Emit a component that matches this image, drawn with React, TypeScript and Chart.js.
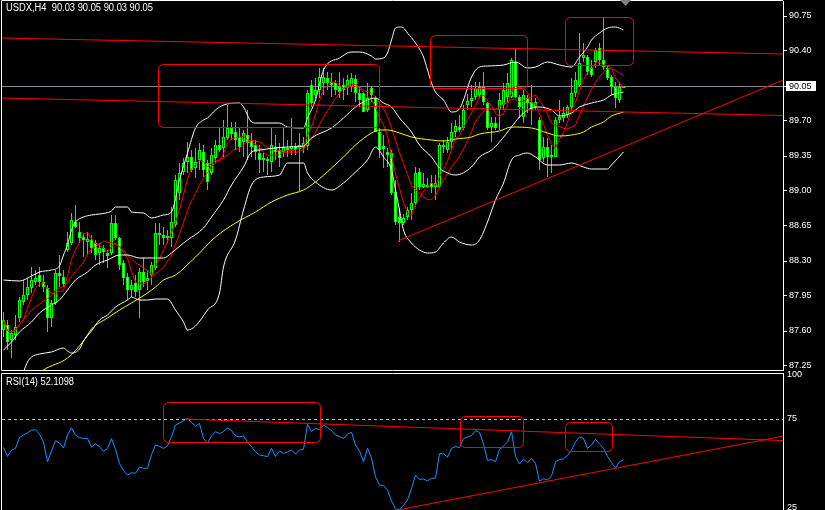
import React, { useEffect, useRef } from "react";
import { Chart, registerables } from "chart.js";

Chart.register(...registerables);

// ---------------- DATA ----------------
const mainTitle = "USDX,H4  90.03 90.05 90.03 90.05";
const rsiTitle = "RSI(14) 52.1098";
const priceTicks = [87.25, 87.6, 87.95, 88.3, 88.65, 89.0, 89.35, 89.7, 90.05, 90.4, 90.75];
const rsiTicks = [25, 75, 100];
const lastPrice = 90.05;
const rsiLevel = 75;

const opens = [
  87.61, 87.66, 87.51, 87.56, 87.73, 87.89, 87.96, 88.03, 88.09, 88.16,
  88.09, 88.03, 87.73, 87.88, 88.18, 88.14, 88.41, 88.48, 88.69, 88.59,
  88.54, 88.49, 88.51, 88.48, 88.38, 88.43, 88.38, 88.38, 88.68, 88.53,
  88.28, 88.14, 88.01, 88.08, 88.01, 88.19, 88.10, 88.16, 88.23, 88.58,
  88.56, 88.53, 88.53, 88.66, 88.98, 89.19, 89.29, 89.34, 89.23, 89.31,
  89.39, 89.28, 89.18, 89.33, 89.46, 89.43, 89.53, 89.63, 89.59, 89.54,
  89.49, 89.56, 89.51, 89.46, 89.38, 89.33, 89.30, 89.29, 89.44, 89.41,
  89.39, 89.43, 89.42, 89.45, 89.42, 89.43, 89.45, 90.06, 89.96, 90.01,
  90.08, 90.13, 90.09, 90.08, 90.04, 90.06, 90.03, 90.04, 90.12, 89.98,
  89.98, 89.81, 90.03, 89.93, 89.59, 89.45, 89.39, 89.38, 88.99, 88.74,
  88.68, 88.74, 88.81, 88.88, 89.19, 89.04, 89.04, 89.08, 89.04, 89.04,
  89.46, 89.41, 89.49, 89.59, 89.64, 89.63, 89.86, 89.90, 89.94, 89.96,
  90.04, 89.88, 89.64, 89.68, 89.81, 89.86, 89.94, 89.94, 90.29, 89.94,
  89.74, 89.93, 89.89, 89.84, 89.71, 89.33, 89.44, 89.34, 89.34, 89.71,
  89.73, 89.76, 89.84, 89.98, 90.06, 90.33, 90.34, 90.23, 90.29, 90.43,
  90.31, 90.23, 90.14, 90.04, 89.91, 90.03,
];
const highs = [
  87.79, 87.71, 87.61, 87.76, 87.94, 88.11, 88.13, 88.24, 88.21, 88.24,
  88.16, 88.06, 87.91, 88.21, 88.36, 88.21, 88.59, 88.78, 88.86, 88.69,
  88.58, 88.59, 88.56, 88.51, 88.48, 88.46, 88.41, 88.76, 88.76, 88.54,
  88.31, 88.18, 88.11, 88.16, 88.23, 88.33, 88.21, 88.29, 88.68, 88.68,
  88.64, 88.61, 88.84, 89.16, 89.28, 89.33, 89.49, 89.41, 89.43, 89.48,
  89.46, 89.31, 89.43, 89.51, 89.64, 89.71, 89.86, 89.69, 89.69, 89.63,
  89.61, 89.81, 89.58, 89.51, 89.46, 89.38, 89.34, 89.63, 89.56, 89.48,
  89.63, 89.51, 89.73, 89.48, 89.58, 89.54, 90.01, 90.11, 90.13, 90.23,
  90.23, 90.19, 90.18, 90.11, 90.19, 90.13, 90.16, 90.18, 90.16, 90.04,
  89.99, 90.08, 90.04, 89.95, 89.63, 89.56, 89.43, 89.41, 89.11, 88.83,
  88.77, 88.84, 88.98, 89.24, 89.23, 89.18, 89.13, 89.16, 89.16, 89.48,
  89.51, 89.54, 89.68, 89.71, 89.76, 89.86, 89.97, 90.06, 90.09, 90.09,
  90.19, 89.89, 89.74, 89.74, 89.98, 90.08, 90.18, 90.33, 90.42, 89.96,
  90.01, 89.96, 90.06, 89.93, 89.74, 89.54, 89.53, 89.46, 89.74, 89.91,
  89.84, 89.86, 90.13, 90.19, 90.58, 90.48, 90.36, 90.31, 90.43, 90.48,
  90.73, 90.26, 90.16, 90.09, 90.09, 90.05,
];
const lows = [
  87.54, 87.41, 87.33, 87.51, 87.69, 87.86, 87.91, 87.98, 88.06, 88.04,
  87.99, 87.59, 87.64, 87.86, 88.04, 88.04, 88.39, 88.46, 88.63, 88.48,
  88.34, 88.36, 88.38, 88.31, 88.26, 88.28, 88.23, 88.36, 88.51, 88.21,
  88.06, 87.91, 87.94, 87.94, 87.73, 88.04, 88.01, 88.06, 88.21, 88.46,
  88.46, 88.48, 88.44, 88.64, 88.91, 89.16, 89.18, 89.19, 89.13, 89.21,
  89.14, 89.01, 89.16, 89.28, 89.39, 89.34, 89.51, 89.51, 89.41, 89.39,
  89.34, 89.31, 89.34, 89.31, 89.18, 89.19, 89.16, 89.19, 89.31, 89.24,
  89.34, 89.34, 89.36, 89.36, 88.99, 89.38, 89.41, 89.84, 89.93, 89.93,
  89.96, 90.01, 89.94, 89.96, 89.93, 89.91, 89.96, 89.99, 89.89, 89.84,
  89.79, 89.79, 89.89, 89.59, 89.33, 89.23, 89.24, 88.96, 88.66, 88.49,
  88.66, 88.71, 88.71, 88.84, 89.01, 89.03, 89.03, 88.98, 88.91, 89.03,
  89.38, 89.38, 89.41, 89.54, 89.59, 89.61, 89.81, 89.84, 89.91, 89.93,
  89.86, 89.61, 89.49, 89.61, 89.61, 89.81, 89.88, 89.93, 89.93, 89.73,
  89.68, 89.78, 89.66, 89.81, 89.21, 89.29, 89.14, 89.18, 89.34, 89.68,
  89.69, 89.73, 89.81, 89.94, 90.04, 90.29, 90.16, 90.14, 90.23, 90.26,
  90.21, 90.11, 89.96, 89.83, 89.88, 90.03,
];
const closes = [
  87.71, 87.49, 87.58, 87.64, 87.91, 87.96, 88.04, 88.11, 88.13, 88.09,
  88.04, 87.73, 87.88, 88.18, 88.15, 88.07, 88.48, 88.71, 88.64, 88.53,
  88.51, 88.52, 88.43, 88.36, 88.43, 88.39, 88.35, 88.68, 88.53, 88.26,
  88.13, 88.01, 88.06, 87.99, 88.19, 88.09, 88.13, 88.26, 88.58, 88.56,
  88.53, 88.55, 88.69, 89.11, 89.18, 89.28, 89.34, 89.21, 89.29, 89.41,
  89.21, 89.09, 89.36, 89.46, 89.41, 89.54, 89.63, 89.57, 89.51, 89.44,
  89.58, 89.48, 89.44, 89.39, 89.31, 89.31, 89.32, 89.46, 89.39, 89.33,
  89.44, 89.41, 89.45, 89.41, 89.46, 89.48, 89.98, 89.88, 90.01, 90.14,
  90.14, 90.08, 90.06, 90.01, 89.99, 90.01, 90.11, 90.13, 89.98, 89.91,
  89.79, 89.93, 89.96, 89.59, 89.41, 89.42, 89.36, 88.98, 88.69, 88.68,
  88.73, 88.81, 88.88, 89.18, 89.04, 89.07, 89.06, 89.04, 89.08, 89.46,
  89.44, 89.49, 89.59, 89.65, 89.61, 89.81, 89.90, 89.93, 90.03, 90.04,
  89.89, 89.63, 89.68, 89.63, 89.91, 90.01, 90.08, 90.31, 89.94, 89.84,
  89.96, 89.88, 89.81, 89.89, 89.31, 89.44, 89.34, 89.36, 89.71, 89.74,
  89.78, 89.84, 89.98, 90.11, 90.28, 90.36, 90.19, 90.16, 90.41, 90.31,
  90.24, 90.13, 90.04, 89.93, 90.04, 90.05,
];
const rsiValues = [
  59, 54, 57.5, 58.5, 64.5, 66, 67.3, 68.7, 69, 66.5,
  62, 51, 57, 62.8, 61.5, 58.7, 66, 70, 66, 64.5,
  64.2, 64, 59.3, 61, 59.5, 56.8, 58.5, 64, 58, 50,
  46, 43.5, 44.8, 44.5, 48, 47.3, 47.3, 55, 60.4, 59.6,
  58.5, 59.8, 64.9, 71.6, 72.7, 74, 75.2, 73, 71, 72.5,
  64, 61.5, 65.5, 67.9, 66.8, 68, 70, 68.5, 65.5, 65,
  65.5, 62.2, 59.5, 56.5, 54.8, 54.4, 53.8, 58.5, 54, 57,
  55.7, 56.5, 57.5, 55.3, 57.6, 58, 72, 68, 69.8, 69,
  71.5, 70.2, 68.5, 66, 65.2, 64, 66.6, 67.5, 60.4, 57,
  51, 58.5, 53, 42.5, 37.9, 37.6, 35, 29, 24.5, 24,
  26.5, 29.5, 36, 43.5, 41.1, 41.3, 40.2, 41.7, 41.7, 55.5,
  55.5, 53.5, 58.5, 59.5, 59, 64.1, 64.8, 65.8, 68.4, 67.5,
  61, 51.8, 52.2, 51, 58, 59.8, 62, 67.9, 54, 49.7,
  52.4, 50.5, 52.9, 50, 40, 41.5, 40.7, 43, 51, 52.2,
  52.7, 54.5, 57.5, 62.2, 65, 64.1, 58.5, 60.4, 63.6, 61,
  58.5, 54, 50.5, 47.5, 51, 52.1,
];

const upperIdx = [0,4,7,9,12,14,15,16,17,18,20,22,24,27,28,31,32,35,37,40,42,44,46,48,50,51,53,55,59,60,62,63,69,71,75,76,78,80,84,87,89,92,93,95,96,97,98,99,100,101,103,105,106,107,108,110,112,114,115,117,119,121,125,128,131,133,136,139,142,144,146,147,149,151,153,155];
const upperVal = [88.11,88.10,88.15,88.19,88.21,88.25,88.36,88.46,88.61,88.69,88.74,88.76,88.77,88.80,88.84,88.84,88.79,88.78,88.73,88.76,88.79,89.11,89.38,89.63,89.71,89.73,89.81,89.86,89.88,89.84,89.69,89.68,89.68,89.64,89.63,89.73,89.91,90.21,90.33,90.39,90.39,90.35,90.32,90.33,90.38,90.51,90.63,90.64,90.63,90.58,90.48,90.34,90.21,90.08,89.99,89.91,89.79,89.82,89.91,90.14,90.24,90.25,90.26,90.29,90.23,90.24,90.29,90.26,90.24,90.34,90.44,90.51,90.58,90.63,90.64,90.61];
const middleIdx = [0,2,4,7,9,12,14,16,18,21,23,26,29,31,34,37,40,42,45,46,50,52,55,57,60,62,64,71,75,77,82,85,88,91,93,95,97,99,102,104,107,109,111,113,117,119,122,124,127,129,132,134,137,139,142,144,147,150,152,155];
const middleVal = [87.41,87.49,87.59,87.69,87.78,87.86,87.91,88.01,88.11,88.19,88.26,88.31,88.36,88.36,88.33,88.33,88.33,88.38,88.48,88.51,88.63,88.74,88.91,89.06,89.24,89.39,89.41,89.44,89.45,89.53,89.63,89.73,89.84,89.91,89.93,89.88,89.84,89.73,89.59,89.46,89.34,89.23,89.18,89.16,89.24,89.34,89.41,89.49,89.64,89.74,89.83,89.84,89.81,89.75,89.78,89.84,89.88,89.91,89.96,89.99];
const lowerIdx = [0,4,6,7,9,12,15,16,17,19,20,22,24,26,28,31,32,34,36,38,41,43,45,46,48,51,54,55,58,60,62,65,69,71,75,76,78,82,85,88,91,93,95,97,98,99,100,102,104,106,108,110,112,114,117,119,121,123,125,127,129,131,133,136,139,142,145,147,151,152,155];
const lowerVal = [86.71,87.08,87.29,87.34,87.37,87.39,87.43,87.40,87.38,87.42,87.50,87.60,87.71,87.76,87.84,87.91,87.94,87.91,87.91,87.92,87.92,87.81,87.69,87.61,87.65,87.81,87.98,88.24,88.51,88.81,89.06,89.14,89.16,89.28,89.28,89.18,89.09,89.01,89.08,89.19,89.31,89.44,89.34,89.21,89.01,88.81,88.61,88.48,88.41,88.38,88.39,88.48,88.54,88.49,88.46,88.51,88.69,88.91,89.08,89.31,89.36,89.38,89.34,89.26,89.26,89.28,89.24,89.22,89.22,89.26,89.39];
const yellowIdx = [7,10,16,20,22,26,29,32,36,38,40,43,48,53,58,63,67,71,75,78,82,85,88,92,94,96,99,102,107,110,113,117,119,124,127,132,136,139,142,145,147,150,152,155];
const yellowVal = [87.10,87.21,87.33,87.50,87.62,87.73,87.81,87.88,87.98,88.04,88.11,88.16,88.34,88.54,88.68,88.79,88.89,88.96,89.01,89.09,89.23,89.34,89.46,89.58,89.61,89.61,89.58,89.54,89.51,89.50,89.52,89.54,89.57,89.60,89.64,89.63,89.58,89.55,89.56,89.59,89.64,89.69,89.75,89.79];

// Drawn objects in (bar index, value) space
const priceTrendLines = [
  [-0.9, 90.53, 194.9, 90.37],
  [-0.9, 89.93, 194.9, 89.755],
  [98.6, 88.5, 194.9, 90.11],
];
const priceBoxes = [
  [38.6, 90.27, 93.9, 89.64],
  [106.6, 90.56, 130.9, 90.03],
  [140.4, 90.74, 157.4, 90.26],
];
const rsiTrendLines = [
  [45.4, 75.0, 194.9, 62.9],
  [98.6, 23.9, 194.9, 65.4],
];
const rsiBoxes = [
  [39.9, 84.6, 79.1, 62.1],
  [114.1, 76.7, 129.9, 59.3],
  [140.4, 73.3, 152.1, 57.0],
];

// ---------------- HELPERS ----------------
const X_MIN = -0.375;
const X_MAX = 194.875;
const FONT = '"Liberation Sans", Arial, sans-serif';

function sma(values: number[], n: number): number[] {
  return values.map((_, i) => {
    const s = Math.max(0, i - n + 1);
    const w = values.slice(s, i + 1);
    return w.reduce((a, b) => a + b, 0) / w.length;
  });
}

function pairs(idx: number[], vals: number[]) {
  return idx.map((x, k) => ({ x, y: vals[k] }));
}

const snap = (v: number) => Math.round(v) + 0.5;

function roundRectPath(ctx: CanvasRenderingContext2D, x1: number, y1: number, x2: number, y2: number, r: number) {
  const l = Math.min(x1, x2), rr = Math.max(x1, x2), t = Math.min(y1, y2), b = Math.max(y1, y2);
  ctx.beginPath();
  ctx.moveTo(l + r, t);
  ctx.lineTo(rr - r, t);
  ctx.arcTo(rr, t, rr, t + r, r);
  ctx.lineTo(rr, b - r);
  ctx.arcTo(rr, b, rr - r, b, r);
  ctx.lineTo(l + r, b);
  ctx.arcTo(l, b, l, b - r, r);
  ctx.lineTo(l, t + r);
  ctx.arcTo(l, t, l + r, t, r);
  ctx.closePath();
}

function drawObjects(chart: any, lines: number[][], boxes: number[][]) {
  const { ctx, chartArea: a, scales } = chart;
  const xs = scales.x, ys = scales.y;
  ctx.save();
  ctx.beginPath();
  ctx.rect(a.left, a.top, a.right - a.left, a.bottom - a.top);
  ctx.clip();
  ctx.strokeStyle = "#ff0000";
  ctx.lineWidth = 1;
  for (const [i1, v1, i2, v2] of lines) {
    ctx.beginPath();
    ctx.moveTo(xs.getPixelForValue(i1), ys.getPixelForValue(v1));
    ctx.lineTo(xs.getPixelForValue(i2), ys.getPixelForValue(v2));
    ctx.stroke();
  }
  for (const [i1, v1, i2, v2] of boxes) {
    roundRectPath(
      ctx,
      snap(xs.getPixelForValue(i1)),
      snap(ys.getPixelForValue(v1)),
      snap(xs.getPixelForValue(i2)),
      snap(ys.getPixelForValue(v2)),
      5
    );
    ctx.stroke();
  }
  ctx.restore();
}

function yAxisBase(min: number, max: number, ticks: number[], fmt: (v: number) => string, mainAxis: boolean) {
  return {
    position: "right",
    min,
    max,
    afterBuildTicks: (s: any) => {
      s.ticks = ticks.map((v) => ({ value: v }));
    },
    afterFit: (s: any) => {
      s.width = 42;
      s.paddingTop = 0;
      s.paddingBottom = 0;
    },
    ticks: {
      color: "#ffffff",
      autoSkip: false,
      padding: mainAxis ? 2 : 4,
      font: { family: FONT, size: 9 },
      callback: (v: any) => fmt(Number(v)),
    },
    grid: {
      drawOnChartArea: false,
      drawTicks: mainAxis,
      tickLength: 4,
      color: "#ffffff",
    },
    border: { display: true, color: "#ffffff", width: 1 },
  };
}

// ---------------- COMPONENT ----------------
export default function App() {
  const mainRef = useRef<HTMLCanvasElement>(null);
  const rsiRef = useRef<HTMLCanvasElement>(null);

  useEffect(() => {
    document.body.style.margin = "0";
    document.body.style.background = "#000";

    const idx = closes.map((_, i) => i);
    const wickData = idx.map((i) => ({ x: i, y: [lows[i], highs[i]] }));
    const bodyData = idx.map((i) => ({
      x: i,
      y: [Math.min(opens[i], closes[i]), Math.max(opens[i], closes[i])],
    }));
    const bodyFill = idx.map((i) => (closes[i] > opens[i] ? "#000000" : "#ffffff"));
    const fastMA = sma(closes, 5).map((v, i) => ({ x: i, y: v }));
    const slowMA = sma(closes, 10).map((v, i) => ({ x: i, y: v }));

    const lineDs = (label: string, data: any[], color: string, smooth = true) => ({
      type: "line",
      label,
      data,
      borderColor: color,
      borderWidth: 1,
      pointRadius: 0,
      fill: false,
      cubicInterpolationMode: smooth ? "monotone" : "default",
      tension: 0,
      order: 0,
    });

    const mainPlugin = {
      id: "mainOverlay",
      beforeDraw(chart: any) {
        const { ctx, width, height } = chart;
        ctx.save();
        ctx.fillStyle = "#000000";
        ctx.fillRect(0, 0, width, height);
        ctx.restore();
      },
      beforeDatasetsDraw(chart: any) {
        const { ctx, chartArea: a, scales } = chart;
        const y = snap(scales.y.getPixelForValue(lastPrice));
        ctx.save();
        ctx.strokeStyle = "#7a8899";
        ctx.lineWidth = 1;
        ctx.beginPath();
        ctx.moveTo(a.left, y);
        ctx.lineTo(a.right, y);
        ctx.stroke();
        ctx.restore();
      },
      afterDatasetsDraw(chart: any) {
        drawObjects(chart, priceTrendLines, priceBoxes);
      },
      afterDraw(chart: any) {
        const { ctx, chartArea: a, scales } = chart;
        ctx.save();
        ctx.strokeStyle = "#ffffff";
        ctx.lineWidth = 1;
        ctx.beginPath();
        ctx.moveTo(a.left - 0.5, a.bottom + 0.5);
        ctx.lineTo(a.left - 0.5, a.top - 0.5);
        ctx.lineTo(a.right, a.top - 0.5);
        ctx.moveTo(a.left - 0.5, a.bottom + 0.5);
        ctx.lineTo(a.right + 1, a.bottom + 0.5);
        ctx.stroke();
        // chart-shift marker
        ctx.fillStyle = "#808080";
        ctx.beginPath();
        ctx.moveTo(620, 0);
        ctx.lineTo(631, 0);
        ctx.lineTo(625.5, 6);
        ctx.closePath();
        ctx.fill();
        // title
        ctx.fillStyle = "#ffffff";
        ctx.font = `10px ${FONT}`;
        ctx.textBaseline = "middle";
        ctx.textAlign = "left";
        ctx.fillText(mainTitle, 6, 8.5, 147);
        // price label box
        const py = Math.round(scales.y.getPixelForValue(lastPrice));
        ctx.fillStyle = "#ffffff";
        ctx.fillRect(786, py - 5, 30, 10);
        ctx.fillStyle = "#000000";
        ctx.font = `9px ${FONT}`;
        ctx.fillText(lastPrice.toFixed(2), 789, py + 0.5);
        ctx.restore();
      },
    };

    const main = new Chart(mainRef.current as HTMLCanvasElement, {
      type: "bar",
      data: {
        datasets: [
          lineDs("BB upper", pairs(upperIdx, upperVal), "#ffffff"),
          lineDs("BB middle", pairs(middleIdx, middleVal), "#ffffff"),
          lineDs("BB lower", pairs(lowerIdx, lowerVal), "#ffffff"),
          lineDs("MA slow", pairs(yellowIdx, yellowVal), "#ffff00"),
          lineDs("MA 5", fastMA, "#ff0000", false),
          lineDs("MA 10", slowMA, "#ff0000", false),
          {
            type: "bar",
            label: "bodies",
            data: bodyData,
            backgroundColor: bodyFill,
            borderColor: "#00ff00",
            borderWidth: 1,
            borderSkipped: false,
            barThickness: 3,
            minBarLength: 1,
            grouped: false,
            inflateAmount: 0,
            order: 1,
          },
          {
            type: "bar",
            label: "wicks",
            data: wickData,
            backgroundColor: "#00ff00",
            borderWidth: 0,
            barThickness: 1,
            grouped: false,
            inflateAmount: 0,
            order: 2,
          },
        ] as any,
      },
      options: {
        animation: false,
        responsive: false,
        events: [],
        layout: { padding: { left: 2, top: 1, bottom: 2, right: 0 } },
        plugins: { legend: { display: false }, tooltip: { enabled: false } },
        scales: {
          x: { type: "linear", min: X_MIN, max: X_MAX, display: false, offset: false } as any,
          y: yAxisBase(87.21, 90.9, priceTicks, (v) => v.toFixed(2), true) as any,
        },
      } as any,
      plugins: [mainPlugin],
    });

    const rsiPlugin = {
      id: "rsiOverlay",
      beforeDraw(chart: any) {
        const { ctx, width, height } = chart;
        ctx.save();
        ctx.fillStyle = "#000000";
        ctx.fillRect(0, 10, width, height - 10);
        ctx.restore();
      },
      beforeDatasetsDraw(chart: any) {
        const { ctx, chartArea: a, scales } = chart;
        const y = snap(scales.y.getPixelForValue(rsiLevel));
        ctx.save();
        ctx.strokeStyle = "#c0c0c0";
        ctx.lineWidth = 1;
        ctx.setLineDash([3, 3]);
        ctx.beginPath();
        ctx.moveTo(a.left, y);
        ctx.lineTo(a.right, y);
        ctx.stroke();
        ctx.restore();
      },
      afterDatasetsDraw(chart: any) {
        drawObjects(chart, rsiTrendLines, rsiBoxes);
      },
      afterDraw(chart: any) {
        const { ctx, chartArea: a } = chart;
        ctx.save();
        ctx.strokeStyle = "#ffffff";
        ctx.lineWidth = 1;
        ctx.beginPath();
        ctx.moveTo(a.left - 0.5, a.bottom + 1);
        ctx.lineTo(a.left - 0.5, a.top - 0.5);
        ctx.lineTo(a.right + 1, a.top - 0.5);
        ctx.stroke();
        ctx.fillStyle = "#ffffff";
        ctx.font = `10px ${FONT}`;
        ctx.textBaseline = "middle";
        ctx.textAlign = "left";
        ctx.fillText(rsiTitle, 6, a.top + 8.5, 68);
        ctx.restore();
      },
    };

    const rsi = new Chart(rsiRef.current as HTMLCanvasElement, {
      type: "line",
      data: {
        datasets: [
          {
            label: "RSI(14)",
            data: rsiValues.map((v, i) => ({ x: i, y: v })),
            borderColor: "#1e90ff",
            borderWidth: 1,
            pointRadius: 0,
            fill: false,
            tension: 0,
          },
        ] as any,
      },
      options: {
        animation: false,
        responsive: false,
        events: [],
        layout: { padding: { left: 2, top: 12, bottom: 0, right: 0 } },
        plugins: { legend: { display: false }, tooltip: { enabled: false } },
        scales: {
          x: { type: "linear", min: X_MIN, max: X_MAX, display: false, offset: false } as any,
          y: yAxisBase(23.88, 100.28, rsiTicks, (v) => String(Math.round(v)), false) as any,
        },
      } as any,
      plugins: [rsiPlugin],
    });

    return () => {
      main.destroy();
      rsi.destroy();
    };
  }, []);

  return (
    <div
      style={{
        position: "absolute",
        left: 0,
        top: 0,
        width: 825,
        height: 510,
        background: "#000000",
        overflow: "hidden",
      }}
    >
      <canvas
        ref={mainRef}
        width={825}
        height={372}
        style={{ position: "absolute", left: 0, top: 0, display: "block" }}
      />
      <canvas
        ref={rsiRef}
        width={825}
        height={148}
        style={{ position: "absolute", left: 0, top: 362, display: "block" }}
      />
    </div>
  );
}
